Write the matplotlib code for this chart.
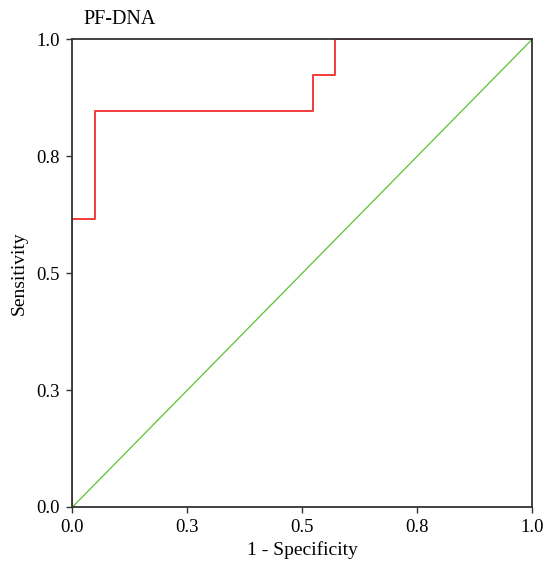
import matplotlib
matplotlib.use("Agg")
from matplotlib import pyplot as plt

# ROC curve points
fpr = [0.0, 0.0, 0.048, 0.048, 0.524, 0.524, 0.571, 0.571, 1.0]
tpr = [0.0, 0.615, 0.615, 0.846, 0.846, 0.923, 0.923, 1.0, 1.0]
ref_line = [0.0, 1.0]
ticks = [0.0, 0.25, 0.5, 0.75, 1.0]
tick_labels = ["0.0", "0.3", "0.5", "0.8", "1.0"]

plt.rcParams["font.family"] = ["Liberation Serif", "DejaVu Serif"]

fig = plt.figure(figsize=(5.43, 5.61), dpi=100)
ax = fig.add_axes([0.1335, 0.0963, 0.8462, 0.8333])

ax.plot(ref_line, ref_line, color="#5cc132", lw=0.9)
ax.plot(fpr, tpr, color="#f23a3a", lw=1.4)

ax.set_xlim(0, 1)
ax.set_ylim(0, 1)
ax.set_xticks(ticks)
ax.set_xticklabels(tick_labels)
ax.set_yticks(ticks)
ax.set_yticklabels(tick_labels)
ax.tick_params(direction="out", length=4, width=1, labelsize=13.5, color="#333333", pad=5)
for s in ax.spines.values():
    s.set_linewidth(1.3)
    s.set_color("#333333")

ax.set_xlabel("1 - Specificity", fontsize=14, labelpad=3)
ax.set_ylabel("Sensitivity", fontsize=14, labelpad=6)
fig.text(83 / 543, 1 - 20 / 561, "PF-DNA", fontsize=14.5, va="center", ha="left")

fig.savefig("out.png", dpi=100)
